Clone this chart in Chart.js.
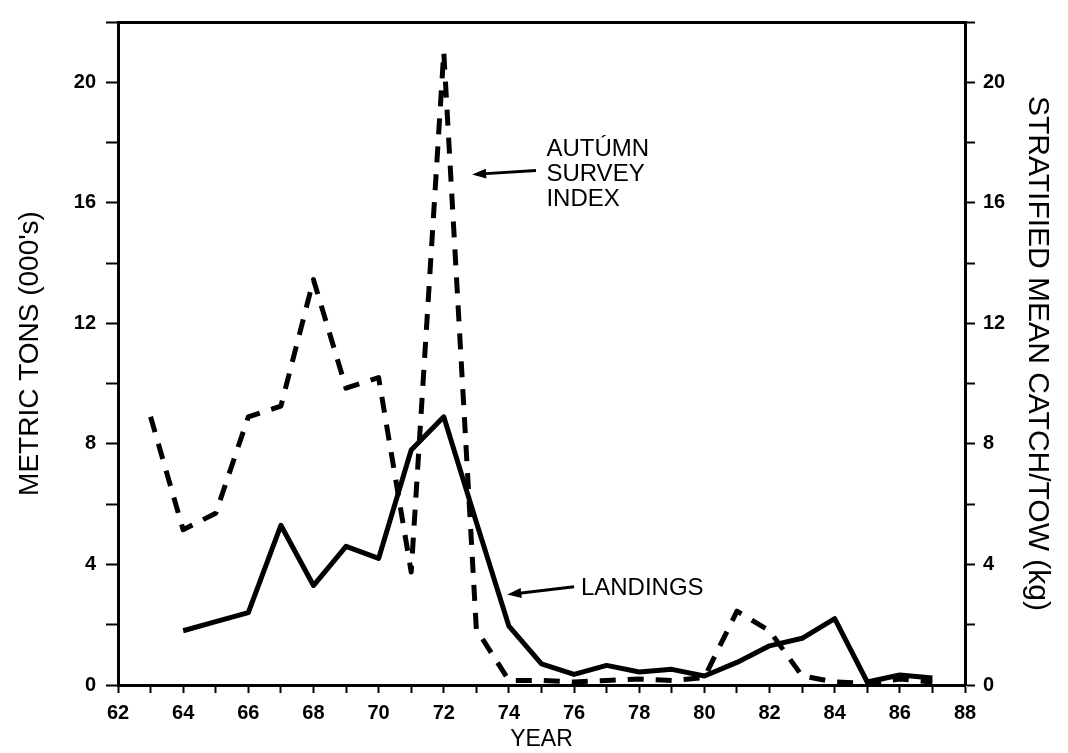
<!DOCTYPE html>
<html>
<head>
<meta charset="utf-8">
<script src="https://cdn.jsdelivr.net/npm/chart.js@4.4.1/dist/chart.umd.min.js"></script>
<style>
  html, body { margin: 0; padding: 0; background: #fff; }
</style>
</head>
<body>
<canvas id="myChart" width="1068" height="753"></canvas>
<script>
// landings (left axis, 000's metric tons)
const landingYears = [64, 65, 66, 67, 68, 69, 70, 71, 72, 73, 74, 75, 76, 77, 78, 79, 80, 81, 82, 83, 84, 85, 86, 87];
const landings = [1.8, 2.1, 2.4, 5.3, 3.3, 4.6, 4.2, 7.8, 8.9, 5.4, 1.95, 0.7, 0.35, 0.65, 0.43, 0.52, 0.3, 0.75, 1.3, 1.55, 2.2, 0.1, 0.33, 0.23];

// autumn survey index (right axis, kg per tow)
const surveyYears = [63, 64, 65, 66, 67, 68, 69, 70, 71, 72, 73, 74, 75, 76, 77, 78, 79, 80, 81, 82, 83, 84, 85, 86, 87];
const surveyIndex = [8.9, 5.15, 5.7, 8.9, 9.25, 13.45, 9.85, 10.2, 3.75, 21.0, 1.85, 0.15, 0.15, 0.1, 0.15, 0.2, 0.15, 0.25, 2.45, 1.8, 0.3, 0.1, 0.05, 0.2, 0.1];

const xTickLabels = [62, 64, 66, 68, 70, 72, 74, 76, 78, 80, 82, 84, 86, 88];
const yTickLabels = [0, 4, 8, 12, 16, 20];

const surveyNote = ["AUTÚMN", "SURVEY", "INDEX"];
const landingsNote = ["LANDINGS"];

const ctx = document.getElementById("myChart");
const plain = '"Liberation Sans", Arial, sans-serif';

function arrow(c, x1, y1, x2, y2) {
  const a = Math.atan2(y2 - y1, x2 - x1);
  c.lineWidth = 3;
  c.beginPath();
  c.moveTo(x1, y1);
  c.lineTo(x2 - 10 * Math.cos(a), y2 - 10 * Math.sin(a));
  c.stroke();
  c.beginPath();
  c.moveTo(x2, y2);
  c.lineTo(x2 - 14 * Math.cos(a) + 5 * Math.sin(a), y2 - 14 * Math.sin(a) - 5 * Math.cos(a));
  c.lineTo(x2 - 14 * Math.cos(a) - 5 * Math.sin(a), y2 - 14 * Math.sin(a) + 5 * Math.cos(a));
  c.closePath();
  c.fill();
}

const notes = {
  id: "notes",
  afterDatasetsDraw(chart) {
    const c = chart.ctx;
    const x = chart.scales.x;
    const y = chart.scales.y;
    c.save();
    c.fillStyle = "#000";
    c.strokeStyle = "#000";
    c.font = "24px " + plain;
    c.textBaseline = "alphabetic";
    surveyNote.forEach((t, i) => {
      c.fillText(t, x.getPixelForValue(75.15), y.getPixelForValue(17.57) + i * 25);
    });
    arrow(c, x.getPixelForValue(74.83), y.getPixelForValue(17.07), x.getPixelForValue(72.87), y.getPixelForValue(16.94));
    c.fillText(landingsNote[0], x.getPixelForValue(76.21), y.getPixelForValue(3.0));
    arrow(c, x.getPixelForValue(76.0), y.getPixelForValue(3.26), x.getPixelForValue(73.95), y.getPixelForValue(3.0));
    c.restore();
  }
};

const tickFont = { family: plain, size: 20, weight: "bold" };

new Chart(ctx, {
  type: "line",
  data: {
    datasets: [
      {
        label: "Landings",
        data: landingYears.map((yr, i) => ({ x: yr, y: landings[i] })),
        borderColor: "#000000",
        borderWidth: 5,
        borderJoinStyle: "round",
        pointRadius: 0,
        tension: 0,
        yAxisID: "y",
      },
      {
        label: "Autumn survey index",
        data: surveyYears.map((yr, i) => ({ x: yr, y: surveyIndex[i] })),
        borderColor: "#000000",
        borderWidth: 5,
        borderDash: [16, 12],
        borderJoinStyle: "round",
        pointRadius: 0,
        tension: 0,
        yAxisID: "y2",
      },
    ],
  },
  options: {
    responsive: false,
    animation: false,
    maintainAspectRatio: false,
    layout: { padding: 0 },
    plugins: {
      legend: { display: false },
      tooltip: { enabled: false },
    },
    scales: {
      x: {
        type: "linear",
        position: "bottom",
        min: 62,
        max: 88,
        ticks: {
          stepSize: 1,
          autoSkip: false,
          maxRotation: 0,
          padding: 8,
          color: "#000",
          font: tickFont,
          callback: (v) => (xTickLabels.includes(v) ? v : ""),
        },
        grid: { drawOnChartArea: false, tickLength: 8, tickWidth: 2, tickColor: "#000" },
        border: { color: "#000", width: 3 },
        title: { display: true, text: "YEAR", color: "#000", font: { family: plain, size: 23, lineHeight: 1 }, padding: { top: 0, bottom: 2 } },
        afterFit: (s) => { s.height = 68; },
      },
      xTop: {
        type: "linear",
        position: "top",
        min: 62,
        max: 88,
        ticks: { display: false },
        grid: { drawOnChartArea: false, drawTicks: false },
        border: { color: "#000", width: 3 },
        afterFit: (s) => { s.height = 11; },
      },
      y: {
        position: "left",
        min: 0,
        max: 22,
        ticks: {
          stepSize: 2,
          autoSkip: false,
          padding: 10,
          color: "#000",
          font: tickFont,
          callback: (v) => (yTickLabels.includes(v) ? v : ""),
        },
        grid: { drawOnChartArea: false, tickLength: 12, tickWidth: 2, tickColor: "#000" },
        border: { color: "#000", width: 3 },
        title: { display: true, text: "METRIC TONS (000's)", color: "#000", font: { family: plain, size: 28, lineHeight: 1 }, padding: { top: 16, bottom: 0 } },
        afterFit: (s) => { s.width = 118; },
      },
      y2: {
        position: "right",
        min: 0,
        max: 22,
        ticks: {
          stepSize: 2,
          autoSkip: false,
          padding: 8,
          color: "#000",
          font: tickFont,
          callback: (v) => (yTickLabels.includes(v) ? v : ""),
        },
        grid: { drawOnChartArea: false, tickLength: 10, tickWidth: 2, tickColor: "#000" },
        border: { color: "#000", width: 3 },
        title: { display: true, text: "STRATIFIED MEAN CATCH/TOW (kg)", color: "#000", font: { family: plain, size: 30, lineHeight: 1 }, padding: { top: 16, bottom: 0 } },
        afterFit: (s) => { s.width = 103; },
      },
    },
  },
  plugins: [notes],
});
</script>
</body>
</html>
